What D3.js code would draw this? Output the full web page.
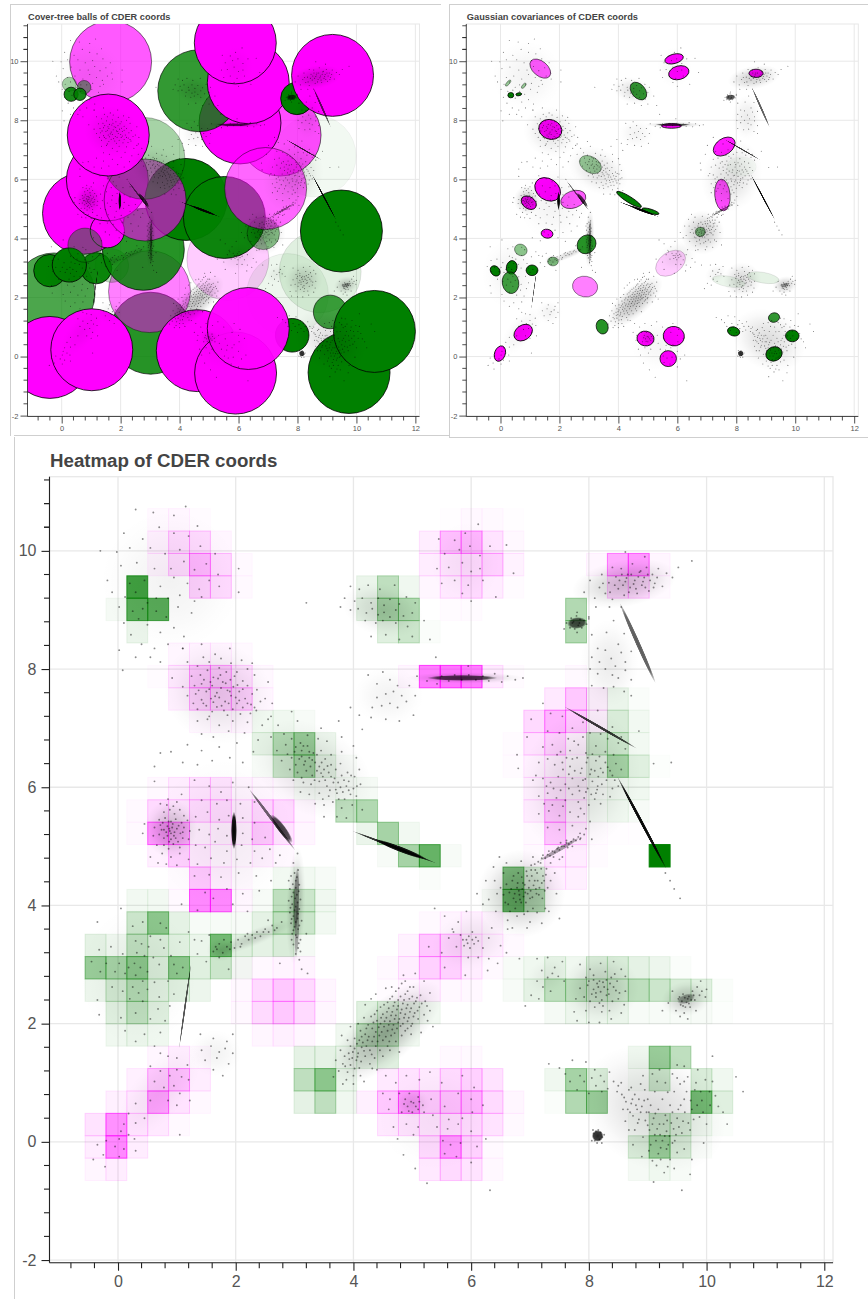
<!DOCTYPE html>
<html>
<head>
<meta charset="utf-8">
<script src="https://cdn.jsdelivr.net/npm/d3@7"></script>
<style>
  html, body { margin: 0; padding: 0; background: #fff; }
  text { font-family: "Liberation Sans", Arial, sans-serif; }
</style>
</head>
<body>
<div id="chart"></div>
<script>
// cover-tree balls: x, y, radius, weight, label (p = magenta, g = green), in drawing order
const balls = [
  [5.64,3.29,1.39,.2,'p'],[7.66,2.10,1.39,.07,'g'],[8.77,2.87,1.39,.12,'g'],[8.60,6.79,1.39,.05,'g'],
  [7.41,7.50,1.39,.7,'p'],[6.05,7.91,1.39,1,'p'],[4.65,9.00,1.39,.8,'g'],[6.33,9.27,1.39,1,'p'],
  [5.89,10.62,1.39,1,'p'],[7.98,8.74,.55,1,'g'],[9.19,9.52,1.39,1,'p'],[1.66,9.98,1.39,.65,'p'],
  [.26,9.22,.24,.35,'g'],[.76,9.12,.23,.5,'g'],[.32,8.88,.24,.9,'g'],[.62,8.88,.21,.9,'g'],
  [-.26,2.12,1.39,.7,'g'],[3.02,.79,1.39,.85,'g'],[2.98,2.20,1.39,.5,'p'],[1.70,3.08,.57,.25,'g'],
  [1.17,2.99,.53,.95,'g'],[2.77,3.63,1.39,.85,'g'],[.74,4.85,1.39,1,'p'],[1.55,4.26,.58,1,'p'],
  [-.40,2.91,.55,1,'g'],[.26,3.10,.58,1,'g'],[.79,3.77,.58,.45,'g'],[1.55,5.98,1.39,1,'p'],
  [4.22,5.32,1.39,1,'g'],[5.52,4.71,1.39,.95,'g'],[6.84,4.17,.55,.45,'g'],[6.92,5.69,1.39,.6,'p'],
  [2.83,5.30,1.39,.6,'p'],[2.79,6.71,1.39,.35,'g'],[1.58,7.50,1.39,1,'p'],[-.40,-.03,1.39,1,'p'],
  [1.02,.23,1.39,1,'p'],[4.60,.20,1.39,1,'p'],[5.90,-.56,1.39,1,'p'],[7.82,.72,.57,1,'g'],
  [6.33,.95,1.39,.95,'p'],[9.11,1.51,.57,.75,'g'],[9.75,-.54,1.39,1,'g'],[10.61,.85,1.39,1,'g'],
  [9.49,4.25,1.39,1,'g']
];

// gaussian covariances: x, y, semi-major, semi-minor, angle in degrees, weight, label
const gaussians = [
  [1.35,9.75,.41,.25,-40,.65,'p'],[5.89,10.08,.32,.16,15,1,'p'],[6.05,9.61,.35,.23,15,1,'p'],
  [8.67,9.59,.24,.14,0,1,'p'],[1.69,7.69,.40,.33,-20,1,'p'],[7.59,7.11,.41,.27,35,.9,'p'],
  [7.53,5.47,.54,.26,-85,.7,'p'],[1.60,5.66,.47,.36,-35,1,'p'],[.96,5.21,.28,.20,-35,1,'p'],
  [2.47,5.32,.44,.29,20,.65,'p'],[1.58,4.16,.20,.15,-10,1,'p'],[2.87,2.37,.43,.35,-10,.5,'p'],
  [5.77,3.16,.56,.37,35,.2,'p'],[.77,.81,.34,.25,35,1,'p'],[-.02,.10,.27,.18,70,1,'p'],
  [4.92,.61,.29,.25,-10,1,'p'],[5.88,.69,.36,.33,-10,1,'p'],[5.69,-.07,.28,.27,0,1,'p'],
  [5.80,7.81,.34,.08,0,1,'p'],
  [4.68,8.99,.34,.23,-50,.8,'g'],[3.05,6.50,.40,.27,-30,.4,'g'],[4.36,5.32,.49,.10,-32,1,'g'],
  [5.09,4.92,.30,.07,-17,1,'g'],[6.78,4.22,.17,.16,0,.5,'g'],[1.78,3.22,.18,.15,0,.5,'g'],
  [.69,3.61,.22,.19,-30,.45,'g'],[2.92,3.80,.34,.30,45,.85,'g'],[.38,3.02,.23,.18,80,1,'g'],
  [-.18,2.90,.19,.15,-50,1,'g'],[1.07,2.92,.20,.18,0,1,'g'],[.34,2.50,.37,.28,-80,.75,'g'],
  [3.45,1.01,.25,.20,-75,.85,'g'],[7.91,.85,.21,.15,-15,1,'g'],[9.28,1.32,.19,.16,15,.8,'g'],
  [9.90,.70,.23,.20,0,1,'g'],[9.28,.09,.28,.24,20,1,'g'],[.26,9.26,.13,.05,50,.4,'g'],
  [.79,9.17,.11,.05,50,.4,'g'],[.35,8.85,.10,.09,0,1,'g'],[.62,8.88,.10,.05,10,1,'g'],
  [7.74,2.54,.57,.18,-10,.08,'g'],[8.91,2.67,.55,.18,-10,.1,'g'],[8.18,6.43,.50,.33,0,.03,'g']
];

// heatmap bin edges
const xBins = [-0.56,-0.205,0.15,0.505,0.86,1.215,1.57,1.925,2.28,2.635,2.99,3.345,3.70,4.055,4.41,4.765,5.12,5.475,5.83,6.185,6.54,6.895,7.25,7.605,7.96,8.315,8.67,9.025,9.38,9.735,10.09,10.445];
const yBins = [-0.655,-0.276,0.103,0.482,0.861,1.24,1.619,1.998,2.377,2.756,3.135,3.514,3.893,4.272,4.651,5.03,5.409,5.788,6.167,6.546,6.925,7.304,7.683,8.062,8.441,8.82,9.199,9.578,9.957,10.336,10.715];

// heatmap weights: row, first column, then one weight per column
const heatPink = [
  [0,0,.05,.1],[0,16,.12,.2,.15,.04],[1,0,.1,.65,.1],[1,16,.2,.55,.25,.03],
  [2,0,.15,.6,.15,.12,.03],[2,14,.12,.15,.15,.2,.2,.15,.03],[3,1,.08,.12,.5,.15,.04],[3,13,.08,.3,.55,.3,.35,.4,.2,.05],
  [4,2,.08,.3,.35,.1],[4,14,.12,.15,.12,.2,.25,.15],[5,3,.05,.1,.03],[5,17,.03,.03],
  [6,8,.05,.08,.05],[7,7,.04,.2,.3,.2,.05],[8,7,.04,.2,.3,.2,.05],[8,14,.02,.05,.08,.04,.04],
  [9,7,.02,.04,.06,.06],[9,14,.03,.1,.25,.25,.1,.03],[10,15,.07,.3,.25,.12,.08,.03],[11,16,.03,.06,.08,.06],
  [12,4,.03,.65,.65,.05],[13,4,.02,.3,.1,.03],[13,22,.08,.08],[14,3,.08,.25,.12,.07,.05,.08,.04],[14,21,.03,.12,.1,.02],
  [15,2,.03,.55,.45,.1,.1,.1,.3,.15,.05],[15,21,.03,.3,.12,.02,.01,.01],[16,2,.03,.2,.15,.2,.2,.12,.22,.2,.05],[16,21,.1,.3,.1],
  [17,3,.04,.1,.15,.15,.06,.05,.03],[17,21,.08,.15,.08],[18,20,.02,.08,.1,.03],[19,20,.02,.15,.25,.08],
  [20,5,.04,.04,.05],[20,21,.2,.4,.3,.1],[21,4,.08,.25,.25,.25,.05],[21,22,.12,.3,.1],
  [22,3,.02,.12,.3,.3,.15,.04],[22,15,.05,.7,.75,.7,.12,.02],[22,23,.03],[23,4,.05,.07,.06,.03],[25,17,.02,.02],
  [26,5,.25,.2,.03],[26,16,.05,.12,.2,.1,.02],[26,25,.2,.2,.03],[27,3,.06,.2,.4,.2,.03],[27,16,.1,.15,.2,.25,.07],[27,24,.05,.45,.55,.05],
  [28,3,.08,.2,.2,.05],[28,16,.1,.35,.4,.15,.04],[29,3,.03,.05,.02],[29,17,.01,.04,.03,.01]
];
const heatGreen = [
  [0,26,.04,.06,.03],[1,26,.15,.4,.15,.02],[2,26,.03,.2,.15,.06,.02],[3,10,.1,.25,.06],[3,22,.02,.3,.4],[3,29,.55,.12],
  [4,10,.25,.45,.08],[4,22,.06,.35,.15],[4,26,.03,.2],[4,29,.15,.06],[5,10,.1,.1,.08,.1,.12],[5,26,.06,.4,.25],
  [6,1,.06,.08,.06],[6,12,.06,.25,.25,.06],[7,1,.12,.25,.12],[7,13,.12,.15,.07,.05],[7,22,.04,.07,.07,.08,.03,.03,.03,.03,.01],
  [8,0,.07,.18,.3,.12,.12,.07],[8,20,.03,.1,.25,.25,.2,.2,.25,.2,.15,.12,.02],[9,0,.4,.35,.45,.15,.45,.12,.2,.05],[9,20,.03,.06,.1,.06,.15,.15,.1,.07,.02],
  [10,0,.1,.06,.25,.15,.12,.08,.55,.12,.1,.15,.04],[11,2,.2,.45,.1,.03,.03,.03,.1,.25,.2,.05],[12,2,.05,.05],[12,8,.03,.25,.2,.06],[12,19,.03,.6,.3],
  [13,9,.05,.05,.03],[13,16,.02],[13,20,.5,.15],[14,14,.03,.35,.6,.03],[14,27,1],[15,13,.08,.35,.05],[16,12,.25,.3],[16,24,.04,.06,.03],
  [17,10,.03,.03,.04,.04],[17,24,.03,.06,.06],[18,8,.03,.2,.35,.1,.02],[18,24,.1,.35,.12,.01],[19,8,.1,.3,.4,.07],[19,24,.2,.2,.05],
  [20,8,.06,.06,.03],[20,24,.03,.15,.05],[21,24,.03,.08,.02],[24,2,.08],[24,14,.12,.2,.02],[24,23,.3],
  [25,1,.04,.65,.65],[25,13,.1,.35,.3],[25,23,.3],[26,2,.75],[26,13,.08,.25,.06]
];

// very tight parts of the cloud, too dense to see single points: x, y, semi-major, semi-minor, angle, opacity
const denseStreaks = [
  [1.97,5.27,.32,.05,90,1],[2.62,5.45,.66,.03,-53,.6],[2.78,5.30,.3,.07,-53,.75],[4.70,4.985,.78,.025,-21,.85],
  [4.80,4.95,.48,.05,-21,1],[3.03,4.10,.55,.05,88,.4],[3.04,3.60,.5,.04,88,.3],[1.14,2.30,.74,.018,82,.7],
  [8.83,8.44,.75,.04,-66,.65],[8.20,7.01,.72,.026,-30,.8],[8.90,5.40,.9,.03,-62,1],[5.85,7.85,.6,.05,0,.7],
  [7.50,4.95,.4,.04,30,.35],[7.80,8.78,.17,.1,5,.7],[8.15,.10,.1,.1,0,.85],[9.65,2.42,.16,.08,20,.35]
];

// how thick the unresolved cloud is around each cluster: x, y, semi-major, semi-minor, angle, opacity
const cloudDensity = [
  [.9,9.5,1.2,1.2,0,.05],[1.7,7.6,.95,.85,-30,.11],[3.3,6.3,1.1,.75,-30,.12],[.9,5.3,.45,.5,0,.2],[1.8,5.2,1.2,1.3,0,.05],
  [3.02,4,1,.16,88,.25],[2.3,3.45,.75,.14,22,.15],[1.75,3.25,.25,.2,0,.12],[.35,2.8,1,1.2,0,.05],[.7,.85,1,.45,50,.05],
  [1.65,1.5,.45,.4,0,.05],[4.55,1.85,1.2,.5,42,.28],[5.4,.4,1,.9,0,.04],[5,.65,.3,.25,0,.1],[6,3.4,.7,.5,20,.07],
  [6.85,4.2,.75,.75,0,.22],[8.2,2.6,.65,.6,0,.16],[7.3,2.8,.4,.3,30,.05],[9.65,2.42,.42,.3,10,.2],[9.1,.55,1.3,1,-30,.14],
  [4.5,9,.7,.45,-15,.12],[5.9,9.8,.6,.7,0,.04],[4.6,7.55,.6,.5,0,.05],[5.9,7.85,1,.1,0,.2],[8.6,9.45,.9,.4,10,.2],
  [8.35,8.1,.5,.75,0,.08],[7.85,6.1,1,1.25,-20,.13]
];

const cloudTopLeft = [0.3,10.7,0.6,10.65,0.95,10.6,1.15,10.75,0.1,10.3,0.42,10.2,0.7,10.4,0.95,10.3,1.2,10.25,1.35,10.42,0.2,10.05,-0.3,10,-0.02,9.98,0.55,10.05,0.8,9.95,1.05,10.02,1.4,10.08,1.65,9.95,0.05,9.75,0.32,9.8,0.62,9.7,0.9,9.7,1.12,9.82,1.3,9.68,1.5,9.78,1.7,9.6,2.05,9.7,-0.18,9.5,0.2,9.45,0.45,9.5,0.72,9.4,0.95,9.55,1.18,9.45,1.38,9.35,1.55,9.5,1.72,9.4,-0.1,9.3,0.12,9.22,0.3,9.3,0.5,9.12,0.65,9.2,0.85,9.2,1.05,9.25,1.3,9.15,1.42,9.22,2.05,9.3,0.02,9.05,0.25,8.98,0.42,9.02,0.65,8.98,0.82,8.88,1.02,9.05,1.25,8.95,0.1,8.78,0.35,8.85,0.5,8.75,0.72,8.62,0.95,8.7,1.12,8.55,0.22,8.58,0.4,8.42,0.62,8.35,0.85,8.42,1.1,8.35,0.02,8.32,0.3,8.2,0.55,8.2,0.72,8.12,0.08,7.98];
const cloudUpper = [1.1,8.35,1.42,8.42,1.65,8.25,1.9,8.35,2.1,8.15,1.18,8.12,1.35,8.05,1.55,8.12,1.72,8.02,1.92,8.1,2.2,8,0.92,7.85,1.25,7.88,1.4,7.9,1.52,7.98,1.62,7.86,1.74,7.9,1.84,7.95,1.98,7.88,2.12,7.8,2.32,7.9,2.55,7.78,1.1,7.7,1.3,7.72,1.42,7.75,1.5,7.62,1.6,7.72,1.68,7.6,1.78,7.78,1.86,7.64,1.96,7.7,2.06,7.62,2.2,7.72,2.36,7.65,1.18,7.55,1.32,7.58,1.42,7.48,1.58,7.5,1.72,7.52,1.82,7.45,1.92,7.55,2.02,7.42,2.16,7.5,2.26,7.4,2.42,7.45,1.35,7.32,1.5,7.38,1.68,7.36,1.8,7.3,1.95,7.32,2.12,7.35,2.25,7.25,2.32,7.35,2.6,7.2,1.35,7.12,1.55,7.2,1.72,7.05,1.95,7.12,2.2,7.1,2.45,7.05,1.42,6.9,1.62,6.85,1.88,6.95,2.15,6.92,2.38,6.8,0.72,6.58,0.9,6.6,1.18,6.72,1.42,6.62,1.72,6.68,2.02,6.75,2.3,6.6,0.62,6.35,1.1,6.42,1.35,6.38,1.6,6.45,1.9,6.5,2.12,6.42];
const cloudUpperFill = [1.46,7.82,1.57,7.78,1.7,7.84,1.83,7.76,1.91,7.82,2.03,7.73,1.37,7.64,1.55,7.66,1.65,7.54,1.75,7.68,1.9,7.62,2,7.52,2.12,7.66,2.28,7.58,1.45,7.42,1.62,7.44,1.76,7.38,1.88,7.42,2.06,7.47,2.2,7.42,2.35,7.3,1.6,7.28,1.86,7.22,2.08,7.24,2.02,7.95,1.45,8.2,1.75,8.18,2.28,8.1,1.28,7.42,1.52,7.15,2.5,7.5,2.62,7.42];
const cloudMidGreen = [2.95,7.28,2.55,7.15,2.72,7.05,3.05,7.12,3.45,7,2.6,6.85,2.82,6.9,2.95,6.82,3.1,6.75,3.22,6.88,3.4,6.82,3.55,6.78,3.8,6.85,4,6.7,2.7,6.62,2.85,6.72,3,6.6,3.12,6.62,3.22,6.7,3.32,6.58,3.45,6.62,3.62,6.55,3.8,6.6,4.05,6.5,2.78,6.45,2.95,6.5,3.08,6.48,3.16,6.38,3.25,6.5,3.35,6.42,3.42,6.35,3.52,6.48,3.62,6.38,3.78,6.4,3.9,6.25,4.1,6.3,2.92,6.3,3.05,6.25,3.2,6.28,3.3,6.2,3.38,6.28,3.48,6.18,3.58,6.25,3.68,6.15,3.8,6.2,3.92,6.1,4.02,6.18,3.15,6.08,3.28,6.05,3.42,6.1,3.55,6.02,3.66,6.08,3.78,6,3.88,6.02,4,5.98,4.12,6.05,4.05,5.85,3.1,5.92,3.25,5.88,3.42,5.9,3.58,5.85,3.72,5.9,3.85,5.8,3.95,5.88,3.35,5.72,3.5,5.7,3.65,5.75,3.8,5.65,3.98,5.7,3.5,5.5,3.72,5.5,3.88,5.48,4.15,5.62];
const cloudMidFill = [3.02,6.38,3.12,6.52,3.18,6.44,3.27,6.35,3.3,6.46,3.38,6.55,3.46,6.42,3.5,6.3,3.56,6.36,3.25,6.6,3.15,6.7,3.02,6.68,2.88,6.56,3.34,6.12,3.45,6.24,3.52,6.12,3.62,6.18,3.7,6.3,3.74,6.08,3.84,6.12,3.96,6.2,4.06,6.02,3.6,5.95,3.7,5.96,3.82,5.92,3.92,5.95,3.48,5.8,3.75,5.8,3.12,6.16,2.98,6.12];
const cloudLeftBlob = [0.72,5.72,0.85,5.8,1,5.75,0.78,5.58,0.88,5.62,0.96,5.55,1.05,5.62,1.12,5.52,0.7,5.45,0.8,5.48,0.9,5.42,0.98,5.46,1.08,5.4,1.18,5.44,0.62,5.32,0.72,5.36,0.78,5.28,0.84,5.34,0.88,5.26,0.92,5.32,0.96,5.24,1,5.3,1.06,5.22,1.12,5.32,1.22,5.26,0.6,5.18,0.7,5.2,0.78,5.14,0.84,5.18,0.9,5.12,0.95,5.18,1.02,5.08,1.1,5.14,1.2,5.12,0.66,5.02,0.78,5.02,0.86,4.96,0.94,5.04,1.05,4.98,0.75,4.88,0.9,4.82,1.05,4.88,0.45,5.38,0.42,5.22,0.55,4.82,0.68,4.72,0.82,4.7,1,4.68,0.87,5.3,0.9,5.22,0.82,5.24,0.93,5.38,0.86,5.42,0.76,5.4,1.03,5.35,0.98,5.14,0.87,5.08,0.74,5.28,0.94,5.68,0.83,5.7,1.1,5.24];
const cloudLeftWide = [1.3,6.12,1.55,6.02,1.75,5.92,1.95,6.08,2.22,6,0.62,6.1,1.08,5.88,1.42,5.78,1.68,5.72,1.85,5.78,2.08,5.72,2.32,5.75,1.32,5.5,1.52,5.58,1.72,5.45,1.88,5.52,2.12,5.48,2.32,5.4,1.38,5.28,1.55,5.2,1.7,5.3,1.85,5.18,2.12,5.22,2.28,5.12,2.5,5.15,1.32,5.02,1.48,4.98,1.65,5.08,1.85,4.92,2.1,5.02,2.32,4.92,2.58,4.95,2.75,4.85,1.2,4.78,1.35,4.7,1.58,4.8,1.8,4.72,2.02,4.78,2.25,4.72,2.45,4.8,2.68,4.72,1.3,4.5,1.55,4.52,1.75,4.48,2.05,4.55,2.35,4.5,2.6,4.42,1.48,4.22,1.62,4.12,1.85,4.28,2.12,4.2,2.4,4.25,2.9,4.42,1.08,4.02,1.35,3.92,1.95,4.02,2.2,3.9];
const cloudVertical = [3.05,4.88,2.98,4.72,3.06,4.6,2.94,4.5,3.02,4.42,3.08,4.35,2.92,4.28,2.98,4.22,3.04,4.18,3.1,4.1,2.9,4.08,2.96,4.02,3.02,3.98,3.08,3.94,2.92,3.88,2.98,3.82,3.05,3.78,3.12,3.74,2.94,3.7,3,3.64,3.06,3.6,2.96,3.52,3.04,3.46,3.1,3.42,2.98,3.34,3.06,3.28,3.02,3.18,3.1,3.22,3.08,3.08,3.12,2.92,3.22,2.85,2.75,3.02,2.95,3.42,3.2,3.52,3,4.55,3.04,4.48,2.97,4.36,3.02,4.3,3.07,4.24,2.95,4.15,3.01,4.12,3.05,4.05,2.93,3.96,3,3.92,3.06,3.86,2.95,3.77,3.02,3.72,3.08,3.66,2.98,3.58,3.02,3.5,3.07,3.36];
const cloudBridge = [1.62,3.22,1.72,3.35,1.78,3.2,1.85,3.3,1.72,3.12,1.92,3.38,1.98,3.28,2.04,3.42,2.1,3.35,2.16,3.48,2.22,3.42,2.28,3.5,2.36,3.55,2.42,3.48,2.5,3.6,2.56,3.55,2.62,3.66,2.7,3.62,2.78,3.72,2.55,3.75,1.42,3.4,1.55,3.5,1.2,3.55,1.35,3.18,1.5,3.05,1.88,2.92,1.66,3.3,1.8,3.42,1.68,3.26,1.9,3.26,2.08,3.3,2.2,3.52,2.33,3.45,2.47,3.55,2.66,3.58];
const cloudGreenLeft = [0.05,3.95,0.42,3.72,0.72,3.7,0.82,3.62,-0.35,3.72,0.25,3.65,0.55,3.48,0.3,3.4,0.4,3.35,0.52,3.3,0.72,3.42,0.78,3.28,1.05,3.38,1.3,3.42,-0.32,3.25,-0.12,3.3,0.08,3.18,0.32,3.2,0.45,3.15,0.6,3.12,0.9,3.15,-0.45,3.05,-0.2,3.02,0.02,3.02,0.18,2.95,0.28,3.02,0.38,2.95,0.5,2.88,0.7,3,0.95,3,1,2.85,1.1,2.95,-0.3,2.88,-0.05,2.88,0.12,2.85,0.3,2.82,0.42,2.72,0.62,2.7,0.85,2.72,-0.1,2.62,0.08,2.55,0.25,2.62,0.35,2.52,0.5,2.58,0.7,2.45,0.95,2.5,-0.35,2.4,0.2,2.42,0.42,2.38,0.68,2.25,0.88,2.3,-0.32,2.15,0.05,2.1,0.3,2.18,0.55,2.08,0.8,2.05,0.12,1.88,0.45,1.82,0.72,1.85,0.3,1.7,0.62,1.62];
const cloudLowerLeft = [1.4,1.82,1.62,1.75,1.85,1.7,1.95,1.82,1.42,1.55,1.58,1.62,1.72,1.52,1.82,1.58,1.95,1.5,1.48,1.38,1.68,1.42,1.88,1.32,1.62,1.22,1.78,1.12,0.72,1.5,0.85,1.45,1,1.42,1.18,1.3,0.55,1.28,0.72,1.2,0.88,1.12,1,1.22,1.08,1.1,1.2,1.05,0.62,1.02,0.78,0.92,0.95,0.95,1.05,0.82,1.22,0.7,0.85,0.7,1,0.62,0.55,0.7,0.3,0.65,0.18,0.48,0.3,0.32,0.45,0.4,0.1,0.3,0.05,0.18,0.18,0.12,0.28,0.05,0.02,0.05,-0.05,-0.08,0.1,-0.12,-0.2,0.02,-0.35,-0.05,-0.25,-0.22,-0.42,-0.3,-0.22,-0.42,1.05,0.12,0.3,-0.15,0.02,-0.25];
const cloudDiagonal = [3.75,1.2,3.82,1.32,3.9,1.18,3.95,1.3,4,1.12,3.85,1.45,3.92,1.5,3.98,1.42,4.05,1.38,4.1,1.25,3.88,1.05,4,0.98,4.12,1.12,3.78,1.55,3.95,1.62,4.02,1.58,4.08,1.5,4.14,1.6,4.2,1.45,4.28,1.32,4.02,1.75,4.1,1.72,4.16,1.68,4.22,1.62,4.28,1.55,4.36,1.42,4.12,1.88,4.2,1.82,4.26,1.78,4.32,1.7,4.38,1.62,4.45,1.55,4.08,2,4.25,1.98,4.32,1.92,4.38,1.86,4.44,1.8,4.5,1.72,4.58,1.62,4.3,2.12,4.4,2.05,4.46,2,4.52,1.95,4.58,1.88,4.64,1.8,4.72,1.7,4.4,2.22,4.5,2.16,4.56,2.1,4.62,2.04,4.68,1.98,4.74,1.92,4.82,1.8,4.52,2.32,4.6,2.26,4.66,2.2,4.72,2.14,4.78,2.08,4.84,2,4.92,1.92,4.62,2.42,4.7,2.36,4.76,2.3,4.82,2.24,4.88,2.16,4.94,2.1,5,2,4.72,2.55,4.8,2.46,4.86,2.4,4.92,2.32,4.98,2.26,5.04,2.18,5.1,2.08,4.82,2.68,4.92,2.55,5,2.46,5.06,2.38,5.12,2.28,5.2,2.15,5.02,2.62,5.14,2.48,5.22,2.38,5.3,2.22,4.55,2.6,4.38,2.5,4.2,2.32,3.95,1.95,3.8,1.8,5.3,2.52,5.35,1.95,4.98,1.82,4.62,1.55,4.4,1.22,4.18,1.02,5.2,2.72,5.05,2.85,4.85,2.82];
const cloudDiagonalFill = [3.86,1.28,3.93,1.4,4.02,1.24,4.07,1.44,3.99,1.52,4.13,1.36,4.06,1.66,4.18,1.54,4.24,1.72,4.31,1.48,4.14,1.78,4.35,1.78,4.41,1.7,4.22,1.92,4.34,2.02,4.43,1.94,4.48,1.86,4.55,1.78,4.61,1.7,4.36,2.16,4.47,2.1,4.53,2.04,4.6,1.98,4.66,1.9,4.7,1.84,4.46,2.28,4.57,2.2,4.64,2.14,4.7,2.08,4.76,2.02,4.8,1.96,4.88,1.88,4.58,2.36,4.68,2.3,4.74,2.24,4.8,2.18,4.86,2.1,4.92,2.04,4.98,1.96,4.66,2.46,4.76,2.4,4.84,2.34,4.9,2.26,4.96,2.2,5.02,2.12,4.77,2.6,4.88,2.5,4.95,2.42,5.03,2.34,5.09,2.22,4.96,2.62,5.08,2.44,5.16,2.34,5.25,2.3,4.88,2.72,3.7,1.38,3.66,1.1,3.82,0.98,4.32,1.24,4.5,1.45,4.78,1.52,5.15,1.85,5.26,2.05,4.18,2.1,4.3,2.42,3.9,1.72,4.65,2.62];
const cloudBottomPink = [4.55,1.12,4.72,1,4.9,1.12,5.12,1.05,5.3,1.18,5.5,1,5.85,1.12,6.05,0.92,4.5,0.82,4.62,0.72,4.78,0.82,4.88,0.72,4.95,0.82,5.02,0.66,5.1,0.76,5.18,0.62,5.32,0.72,5.55,0.6,5.78,0.82,6,0.72,6.2,0.62,4.6,0.55,4.82,0.5,4.92,0.6,5,0.5,5.1,0.55,5.2,0.5,5.35,0.45,5.62,0.38,5.85,0.4,6.02,0.5,4.68,0.25,4.9,0.3,5.1,0.25,5.42,0.25,5.6,0.22,5.78,0.3,6,0.18,4.75,0.05,5.02,0.12,5.52,0.02,5.65,-0.05,5.82,-0.02,6.1,-0.08,6.25,0.05,4.85,-0.22,5.55,-0.2,5.75,-0.25,6,-0.35,5.05,-0.45,5.25,-0.7,6.32,-0.82,4.98,0.68,5.06,0.6,4.94,0.52,5.12,0.68,4.86,0.64];
const cloudCentre = [5.38,3.95,5.55,3.82,5.68,3.6,5.78,3.72,5.92,3.9,5.62,3.45,5.7,3.55,5.82,3.5,5.92,3.42,6.02,3.55,6.12,3.4,5.75,3.3,5.88,3.32,5.98,3.28,6.05,3.35,6.2,3.28,6.3,3.45,6.5,3.32,5.95,3.12,6.12,3.12,6.3,3.1,6.45,3.02,6.6,3.2,6.82,3.1,5.28,3.3,5.5,3.2,5.55,2.95,5.9,2.82,6.28,2.9,5.96,3.48,5.86,3.42,6.08,3.46,5.94,3.36,6.02,3.42];
const cloudDense = [6.1,4.2,6.25,4.42,6.3,4.1,6.38,4.65,6.42,3.9,6.5,4.3,6.55,4.55,6.58,4.05,6.62,3.75,6.65,4.22,6.7,4.42,6.72,4.12,6.75,3.95,6.78,4.3,6.8,4.55,6.82,4.18,6.85,4.05,6.88,4.38,6.9,3.85,6.92,4.22,6.95,4.5,6.98,4.3,7,4.12,7.02,4.6,7.05,3.95,7.08,4.42,7.1,4.28,7.12,4.55,7.15,4.18,7.18,4.72,7.2,4.38,7.22,4.5,7.25,4.25,7.28,4.62,7.32,3.9,7.35,4.42,7.42,4.55,7.45,4.2,7.5,4.78,6.6,4.72,6.35,3.62,6.7,3.62,7,3.72,7.2,3.7,7.5,3.78,6.85,4.75,6.48,4.82,7.05,4.82,7.22,4.85,7.35,4.72,7.48,4.98,7.62,5.1,7.72,5,7.85,5.12,7.55,4.82,7.95,5.3];
const cloudDenseFill = [6.55,4.18,6.6,4.36,6.63,4.02,6.68,4.28,6.72,4.5,6.74,4.2,6.76,4.06,6.79,4.38,6.81,4.25,6.83,4.1,6.86,4.48,6.87,4.28,6.89,4.15,6.91,4.35,6.93,4.05,6.94,4.58,6.96,4.2,6.99,4.42,7.01,4.25,7.03,4.5,7.04,4.14,7.06,4.34,7.09,4.6,7.11,4.2,7.13,4.42,7.16,4.3,7.19,4.62,7.21,4.12,7.24,4.42,7.27,4.52,7.3,4.3,6.66,3.9,6.78,3.82,6.96,3.9,7.12,3.88,6.44,4.2,6.4,4.42,6.2,4.02,6.62,3.6,6.95,3.62,7.26,3.95];
const cloudStreakP = [7.02,4.68,7.08,4.7,7.14,4.74,7.2,4.8,7.26,4.8,7.3,4.86,7.34,4.84,7.38,4.92,7.42,4.9,7.46,4.96,7.5,4.94,7.54,5,7.58,5,7.62,5.06,7.66,5.04,7.7,5.08,7.74,5.12,7.78,5.1,7.82,5.16,7.86,5.14,7.92,5.2,7.4,4.82,7.52,5.06,7.64,4.98,7.32,4.92];
const cloudGreenRight = [7.12,3.1,7.3,3.12,7.42,2.95,7.55,3.05,7.2,2.9,7.3,2.78,7.38,2.85,7.48,2.8,7.58,2.72,7.12,2.72,7.22,2.62,7.35,2.55,7.02,2.48,7.15,2.42,6.92,2.3,7.85,3,8.02,2.92,8.2,3.02,8.42,3.05,8.55,2.92,7.95,2.78,8.08,2.82,8.18,2.72,8.28,2.88,8.38,2.78,8.48,2.72,8.62,2.8,7.85,2.6,7.98,2.65,8.08,2.58,8.16,2.62,8.24,2.7,8.32,2.58,8.42,2.62,8.52,2.52,8.62,2.55,7.78,2.42,7.92,2.45,8.02,2.38,8.12,2.45,8.22,2.4,8.3,2.48,8.4,2.38,8.5,2.42,8.6,2.32,7.75,2.2,7.95,2.22,8.1,2.28,8.22,2.2,8.35,2.22,8.55,2.18,7.8,2.05,8,2.02,8.18,2.02,8.38,2.08,8.14,2.68,8.2,2.54,8.26,2.62,8.12,2.52,8.3,2.74,8.34,2.5,8.05,2.5,8.18,2.35,8.46,2.56,8,2.72,8.36,2.68,8.24,2.3,8.08,2.74,8.44,2.84];
const cloudRightBlob = [9.35,2.35,9.42,2.55,9.48,2.22,9.52,2.42,9.56,2.32,9.6,2.5,9.62,2.18,9.66,2.36,9.7,2.46,9.72,2.28,9.76,2.55,9.8,2.4,9.84,2.62,9.88,2.48,9.92,2.55,9.98,2.45,10,2.58,9.55,2.12,9.68,2.08,9.82,2.22,9.25,2.22,9.9,2.72,9.58,2.38,9.63,2.44,9.68,2.42,9.74,2.4,9.78,2.48,9.6,2.3,9.7,2.34,9.64,2.28,9.54,2.45];
const cloudLowerRight = [7.32,1.32,7.5,1.25,7.72,1.38,7.95,1.35,7.85,1.12,8.05,1.08,8.12,0.95,8.2,1.12,8.35,1.18,7.8,0.88,8,0.82,8.22,0.85,8.42,1.02,8.48,0.85,8.55,1,8.6,0.75,8.68,0.88,8.72,0.65,8.78,0.8,8.82,0.55,8.85,0.72,8.9,0.6,8.95,0.88,8.98,0.5,9,0.72,9.05,0.62,9.1,0.4,9.12,0.85,9.18,0.55,9.2,0.3,9.25,0.72,9.3,0.45,9.32,0.18,9.38,0.62,9.4,0.32,9.45,0.85,9.48,0.12,9.52,0.55,9.55,0.98,9.6,0.35,9.62,0.72,9.68,1.1,9.72,0.2,9.75,0.55,9.8,0.88,9.85,1.22,9.88,0.42,9.92,0.7,9.98,1.05,10,0.3,10.05,0.85,10.1,1.45,10.2,0.6,10.35,0.3,10.5,1.1,10.62,0.85,8.62,0.35,8.7,0.5,8.78,0.2,8.85,0.38,8.92,0.08,9,0.28,9.05,-0.05,9.12,0.12,9.18,-0.2,9.25,0.02,9.32,-0.12,9.38,-0.3,9.42,-0.02,9.5,-0.18,9.15,-0.4,9.28,-0.52,9.45,-0.45,9.62,-0.12,9.75,-0.3,9.95,-0.02,8.75,-0.05,8.9,-0.25,9.1,-0.68,9.58,-0.82,9.72,-0.55,9.3,1,9.42,1.15,9.5,1.3,9.62,1.28,9.2,1.22,9.08,1.15,8.92,1.12,10.1,1.02];
const cloudLowerRightFill = [8.5,0.95,8.56,0.8,8.63,0.68,8.66,0.55,8.74,0.72,8.75,0.44,8.8,0.62,8.83,0.32,8.88,0.5,8.94,0.7,8.96,0.36,9.02,0.5,9.03,0.2,9.08,0.3,9.13,0.48,9.14,0.02,9.16,0.22,9.21,0.12,9.22,-0.1,9.27,0.3,9.29,0.1,9.33,0.36,9.35,-0.05,9.37,0.1,9.42,0.5,9.44,0.22,9.46,0.02,9.5,0.4,9.53,0.25,9.56,0.62,9.58,0.15,9.63,0.5,9.66,0.85,9.69,0.32,9.73,0.7,9.78,0.38,9.82,1,9.84,0.62,9.9,0.85,9.94,0.5,9.02,-0.15,9.08,-0.32,9.22,-0.3,9.34,-0.42,8.68,0.2,8.58,0.55,8.72,0.92,8.88,0.98,9.16,1.02,9.34,0.84,9.5,1.08,9.62,1.02,10.06,0.62,10.15,0.78,10.28,0.5,7.6,1.15,7.68,1.02,7.92,1.02,8.1,1.22,8.26,1.02,8.32,0.9];
const cloudTopMid = [3.95,9.4,4.1,9.35,4.25,9.42,4.45,9.35,4.7,9.42,3.85,9.2,4.02,9.15,4.15,9.2,4.3,9.12,4.42,9.2,4.52,9.08,4.62,9.18,4.78,9.1,4.9,9.22,5.05,9.12,3.78,9.05,3.95,9,4.08,9.02,4.22,8.95,4.32,9.02,4.42,8.92,4.52,8.96,4.62,8.88,4.72,9,4.85,8.9,5,8.95,4.2,8.82,4.38,8.78,4.5,8.82,4.72,8.78,4.92,8.72,5.2,8.82,4.3,8.55,4.55,8.58,4.78,8.5,5,8.55,5.3,8.5,3.2,9.12];
const cloudTopPink = [5.45,10.2,5.72,10.18,5.9,10.3,6.12,10.45,5.55,9.95,5.8,10.02,5.98,10.08,6.15,9.92,6.32,10.08,5.42,9.7,5.62,9.72,5.85,9.8,6,9.65,6.15,9.7,6.6,10.1,5.5,9.45,5.72,9.5,5.95,9.42,6.2,9.5,5.85,9.28,6,9.15,6.42,9.22,6.72,9.62];
const cloudHorizontal = [4.25,7.9,4.4,7.75,4.5,7.95,4.62,7.82,4.75,7.72,4.4,7.52,4.55,7.58,4.68,7.62,4.82,7.55,4.95,7.72,4.32,7.35,4.48,7.38,4.62,7.42,4.75,7.35,4.9,7.45,5.05,7.55,4.1,7.22,4.3,7.18,4.55,7.15,4.78,7.12,5.02,7.22,3.95,7.35,3.75,7.12,4.15,6.98,5.25,7.8,5.42,7.75,5.08,7.88,6.4,7.92,6.52,7.78,6.62,7.88,6.75,7.82,6.88,7.85,5.4,8.2,5.95,8.05,5.5,7.88,5.62,7.8,5.72,7.9,5.84,7.82,5.96,7.9,6.08,7.82,6.2,7.88,6.3,7.8];
const cloudNineRight = [7.92,9.3,8.02,9.5,8.1,9.2,8.18,9.38,8.22,9.6,8.28,9.28,8.34,9.46,8.4,9.18,8.46,9.56,8.5,9.36,8.55,9.7,8.6,9.25,8.62,9.48,8.66,9.6,8.7,9.38,8.74,9.78,8.78,9.5,8.82,9.28,8.86,9.64,8.9,9.42,8.94,9.55,8.98,9.72,9.02,9.32,9.08,9.6,9.12,9.45,9.18,9.7,9.25,9.4,9.32,9.62,9.42,9.55,9.52,9.72,8.62,9.98,8.95,9.9,9.75,9.83,8.4,9.72,8.12,9.05,8.35,9.05,8.55,9.05,8.52,9.5,8.58,9.42,8.64,9.54,8.68,9.3,8.72,9.6,8.76,9.44,8.8,9.36,8.84,9.56,8.88,9.66,8.92,9.48,8.96,9.38,9,9.6,9.04,9.5,9.1,9.38,9.16,9.55,8.44,9.42,8.36,9.3,8.56,9.6,8.24,9.45];
const cloudEightRight = [8,8.85,8.05,8.58,8.15,8.35,8.3,8.62,8.42,8.82,8.5,8.42,8.6,8.6,8.05,8.2,8.18,8.12,8.28,8.32,8.38,8.18,8.45,8.05,8.55,8.28,8.62,8.12,8.72,8.3,8.02,8,8.15,7.92,8.28,8,8.4,7.9,8.5,7.85,8.62,7.98,8.72,7.82,8.05,7.72,8.25,7.68,8.42,7.7,8.6,7.62,8.72,7.55];
const cloudUpperRight = [7.22,7.42,7.02,7.15,6.95,6.85,6.78,6.55,6.8,6.32,7.1,6.2,7.35,7.25,7.55,7.2,7.72,7,7.9,7.1,8.15,7.3,8.4,7.02,8.55,6.85,8.85,6.95,7.3,6.95,7.5,6.92,7.65,6.82,7.22,6.68,7.38,6.72,7.52,6.6,7.68,6.62,7.82,6.72,7.95,6.58,8.12,6.7,8.28,6.6,8.42,6.55,8.62,6.65,7.15,6.42,7.3,6.48,7.42,6.38,7.55,6.42,7.68,6.35,7.8,6.5,7.88,6.32,7.96,6.42,8.04,6.3,8.12,6.45,8.2,6.32,8.28,6.42,8.36,6.28,8.46,6.4,8.55,6.3,7.05,6.12,7.22,6.15,7.35,6.08,7.48,6.18,7.6,6.05,7.72,6.15,7.82,6.02,7.9,6.12,7.98,5.98,8.06,6.1,8.14,5.96,8.22,6.05,8.3,6.12,8.4,5.98,8.5,6.02,7.15,5.85,7.3,5.9,7.45,5.82,7.6,5.78,7.72,5.88,7.82,5.75,7.92,5.82,8,5.7,8.1,5.8,8.2,5.72,7.15,5.55,7.32,5.6,7.5,5.52,7.68,5.58,7.82,5.5,7.92,5.55,7.3,5.32,7.5,5.28,7.72,5.35,7.85,5.22,8.02,5.42,8.05,5.12,9.3,4.55,9.38,4.42,9.45,4.28,9.55,4.12,9.1,6.4,9.4,6.42];
const cloudUpperRightFill = [7.98,6.5,8.06,6.56,8.02,6.22,8.1,6.28,8.16,6.18,8.24,6.25,8.18,6.52,8.32,6.34,8.4,6.2,8.44,6.12,7.86,6.24,7.94,6.14,7.76,6.28,7.66,6.22,7.56,6.3,7.84,5.94,7.95,5.92,8.04,5.88,8.12,5.9,7.66,5.98,7.52,5.95,7.4,5.98,7.28,6.02,7.62,6.5,7.72,6.48,7.46,6.55,7.9,6.85,8.02,6.92,8.2,6.9,8.32,6.82,7.75,6.78,8.5,6.75,7.56,5.68,7.38,5.7,7.24,5.72,7.86,5.64,8.15,6.02,8.24,5.88,8.36,5.84];
const cloudTightSpots = [7.62,8.78,7.68,8.7,7.7,8.86,7.74,8.8,7.76,8.68,7.79,8.9,7.82,8.74,7.85,8.84,7.88,8.7,7.92,8.82,7.96,8.76,7.72,8.78,7.84,8.78,7.8,8.62,7.8,8.96,8,8.88,7.58,8.68,8.05,0.02,8.08,0.14,8.1,0.02,8.12,0.18,8.14,-0.02,8.16,0.2,8.18,0.04,8.2,0.16,8.23,0.08,8.26,0.12,8.07,0.2,8.22,-0.02];

const xTicks = [0,2,4,6,8,10,12];
const yTicks = [-2,0,2,4,6,8,10];
const minorTicks = [-1.6,-1.2,-0.8,-0.4,0.4,0.8,1.2,1.6,2.4,2.8,3.2,3.6,4.4,4.8,5.2,5.6,6.4,6.8,7.2,7.6,8.4,8.8,9.2,9.6,10.4,10.8,11.2,11.6];

const colors = { p: "#ff00ff", g: "#008000" };

const cloud = [cloudTopLeft, cloudUpper, cloudUpperFill, cloudMidGreen, cloudMidFill, cloudLeftBlob, cloudLeftWide,
  cloudVertical, cloudBridge, cloudGreenLeft, cloudLowerLeft, cloudDiagonal, cloudDiagonalFill, cloudBottomPink,
  cloudCentre, cloudDense, cloudDenseFill, cloudStreakP, cloudGreenRight, cloudRightBlob, cloudLowerRight,
  cloudLowerRightFill, cloudTopMid, cloudTopPink, cloudHorizontal, cloudNineRight, cloudEightRight,
  cloudUpperRight, cloudUpperRightFill, cloudTightSpots].flatMap(c => d3.range(0, c.length, 2).map(i => [c[i], c[i + 1]]));

const svg = d3.select("#chart").append("svg")
  .attr("width", 868)
  .attr("height", 1299)
  .style("display", "block");

// soft edges for the parts of the cloud that are too dense for single points
const defs = svg.append("defs");
function softGradient(id, stops) {
  defs.append("radialGradient").attr("id", id)
    .selectAll("stop").data(stops).join("stop")
    .attr("offset", d => d[0])
    .attr("stop-color", "#000")
    .attr("stop-opacity", d => d[1]);
}
softGradient("softStreak", [[0, 1], [.72, .9], [1, 0]]);
softGradient("softCloud", [[0, 1], [.45, .6], [.8, .15], [1, 0]]);

// frames round the three notebook outputs
[[10.5,4,10.5,436],[10,4.5,441,4.5],[14,435.5,449,435.5],[449.5,4,449.5,437],[449,4.5,868,4.5],[449,437.5,868,437.5],[14.5,437,14.5,1299]]
  .forEach(d => svg.append("line")
    .attr("x1", d[0]).attr("y1", d[1]).attr("x2", d[2]).attr("y2", d[3])
    .attr("stroke", "#cfcfcf").attr("stroke-width", 1));

// one panel: frame, grid, axes and an empty clipped group for the marks
function makePanel(id, box, size) {
  const x = d3.scaleLinear().domain(box.xDomain).range([box.left, box.right]);
  const y = d3.scaleLinear().domain(box.yDomain).range([box.bottom, box.top]);
  const g = svg.append("g");

  g.append("clipPath").attr("id", id)
    .append("rect")
    .attr("x", box.left).attr("y", box.top)
    .attr("width", box.right - box.left).attr("height", box.bottom - box.top);

  g.append("rect")
    .attr("x", box.left).attr("y", box.top)
    .attr("width", box.right - box.left).attr("height", box.bottom - box.top)
    .attr("fill", "none").attr("stroke", "#e8e8e8").attr("stroke-width", size.grid);

  const grid = g.append("g").attr("stroke", "#e8e8e8").attr("stroke-width", size.grid);
  grid.selectAll(".gx").data(xTicks).join("line")
    .attr("x1", d => x(d)).attr("x2", d => x(d))
    .attr("y1", box.top).attr("y2", box.bottom);
  grid.selectAll(".gy").data(yTicks).join("line")
    .attr("y1", d => y(d)).attr("y2", d => y(d))
    .attr("x1", box.left).attr("x2", box.right);

  const marks = g.append("g").attr("clip-path", `url(#${id})`);

  const axes = g.append("g");
  const xAxis = d3.axisBottom(x).tickValues(xTicks).tickSize(size.major).tickPadding(size.pad).tickFormat(d3.format("d"));
  const yAxis = d3.axisLeft(y).tickValues(yTicks).tickSize(size.major).tickPadding(size.pad).tickFormat(d => String(d));
  const ax = axes.append("g").attr("transform", `translate(0,${box.bottom})`).call(xAxis);
  const ay = axes.append("g").attr("transform", `translate(${box.left},0)`).call(yAxis);
  [ax, ay].forEach(a => {
    a.selectAll("path").attr("d", null);
    a.selectAll("line").attr("stroke", "#222").attr("stroke-width", size.line);
    a.selectAll("text").attr("fill", "#555").style("font-size", size.label + "px");
  });
  axes.append("line").attr("x1", box.left).attr("x2", box.right).attr("y1", box.bottom).attr("y2", box.bottom)
    .attr("stroke", "#222").attr("stroke-width", size.line);
  axes.append("line").attr("x1", box.left).attr("x2", box.left).attr("y1", box.top).attr("y2", box.bottom)
    .attr("stroke", "#222").attr("stroke-width", size.line);

  axes.selectAll(".mx").data(minorTicks.filter(d => d > box.xDomain[0] && d < box.xDomain[1])).join("line")
    .attr("x1", d => x(d)).attr("x2", d => x(d))
    .attr("y1", box.bottom).attr("y2", box.bottom + size.minor)
    .attr("stroke", "#222").attr("stroke-width", size.line);
  const yMinor = [...minorTicks, -2.4, 10.4, 10.8].filter(d => d > box.yDomain[0] && d < box.yDomain[1]);
  axes.selectAll(".my").data(yMinor).join("line")
    .attr("y1", d => y(d)).attr("y2", d => y(d))
    .attr("x1", box.left).attr("x2", box.left - size.minor)
    .attr("stroke", "#222").attr("stroke-width", size.line);

  g.append("text")
    .attr("x", box.left + size.titleDx).attr("y", box.titleY)
    .attr("fill", "#444").attr("font-weight", "bold")
    .style("font-size", box.titleSize + "px")
    .text(box.title);

  return { x, y, marks };
}

function drawEllipses(sel, rows, p, alphaAt, fill) {
  return sel.selectAll(null).data(rows).join("ellipse")
    .attr("transform", d => `translate(${p.x(d[0])},${p.y(d[1])}) rotate(${-d[4]})`)
    .attr("rx", d => p.x(d[2]) - p.x(0))
    .attr("ry", d => p.x(d[3]) - p.x(0))
    .attr("fill", fill)
    .attr("fill-opacity", alphaAt);
}

function drawCloud(p, radius, opacity) {
  drawEllipses(p.marks.append("g"), cloudDensity, p, d => d[5], "url(#softCloud)");
  drawEllipses(p.marks.append("g"), denseStreaks, p, d => d[5], "url(#softStreak)");
  p.marks.append("g").selectAll("circle").data(cloud).join("circle")
    .attr("cx", d => p.x(d[0]))
    .attr("cy", d => p.y(d[1]))
    .attr("r", radius)
    .attr("fill", "#000")
    .attr("fill-opacity", opacity);
}

const smallSize = { grid: 1, major: 7, minor: 4, line: 0.8, pad: 2, label: 7.5, titleDx: 0.5 };

// top left: cover-tree balls
const ballPanel = makePanel("clipBalls", {
  left: 27.5, right: 419.5, top: 24, bottom: 416.5,
  xDomain: [-1.16, 12.14], yDomain: [-2.03, 11.26],
  title: "Cover-tree balls of CDER coords", titleY: 19.5, titleSize: 9.2
}, smallSize);

ballPanel.marks.append("g").selectAll("circle").data(balls).join("circle")
  .attr("cx", d => ballPanel.x(d[0]))
  .attr("cy", d => ballPanel.y(d[1]))
  .attr("r", d => ballPanel.x(d[2]) - ballPanel.x(0))
  .attr("fill", d => colors[d[4]])
  .attr("fill-opacity", d => d[3])
  .attr("stroke", "#000")
  .attr("stroke-opacity", d => d[3])
  .attr("stroke-width", 0.8);
drawCloud(ballPanel, 0.55, 0.5);

// top right: gaussian covariances
const gaussPanel = makePanel("clipGauss", {
  left: 466.3, right: 858.3, top: 24, bottom: 416.5,
  xDomain: [-1.16, 12.14], yDomain: [-2.03, 11.26],
  title: "Gaussian covariances of CDER coords", titleY: 19.5, titleSize: 9.25
}, smallSize);

drawEllipses(gaussPanel.marks.append("g"), gaussians, gaussPanel, d => d[5], d => colors[d[6]])
  .attr("stroke", "#000")
  .attr("stroke-opacity", d => d[5])
  .attr("stroke-width", 0.8);
drawCloud(gaussPanel, 0.55, 0.5);

// bottom: heatmap
const heatPanel = makePanel("clipHeat", {
  left: 49.5, right: 833, top: 476.7, bottom: 1262.7,
  xDomain: [-1.164, 12.148], yDomain: [-2.045, 11.255],
  title: "Heatmap of CDER coords", titleY: 467, titleSize: 18.7
}, { grid: 1.3, major: 8, minor: 5.5, line: 1.1, pad: 5, label: 16, titleDx: 0.5 });

function expandCells(rows) {
  return rows.flatMap(r => r.slice(2).map((w, k) => ({ row: r[0], col: r[1] + k, w })));
}

function drawCells(cells, color, gain) {
  heatPanel.marks.append("g").selectAll("rect").data(cells).join("rect")
    .attr("x", d => heatPanel.x(xBins[d.col]))
    .attr("y", d => heatPanel.y(yBins[d.row + 1]))
    .attr("width", d => heatPanel.x(xBins[d.col + 1]) - heatPanel.x(xBins[d.col]))
    .attr("height", d => heatPanel.y(yBins[d.row]) - heatPanel.y(yBins[d.row + 1]))
    .attr("fill", color)
    .attr("fill-opacity", d => d.w * gain)
    .attr("stroke", color)
    .attr("stroke-opacity", d => d.w)
    .attr("stroke-width", 1);
}

drawCells(expandCells(heatPink), colors.p, .72);
drawCells(expandCells(heatGreen), colors.g, 1);
drawCloud(heatPanel, 0.95, 0.45);
</script>
</body>
</html>
